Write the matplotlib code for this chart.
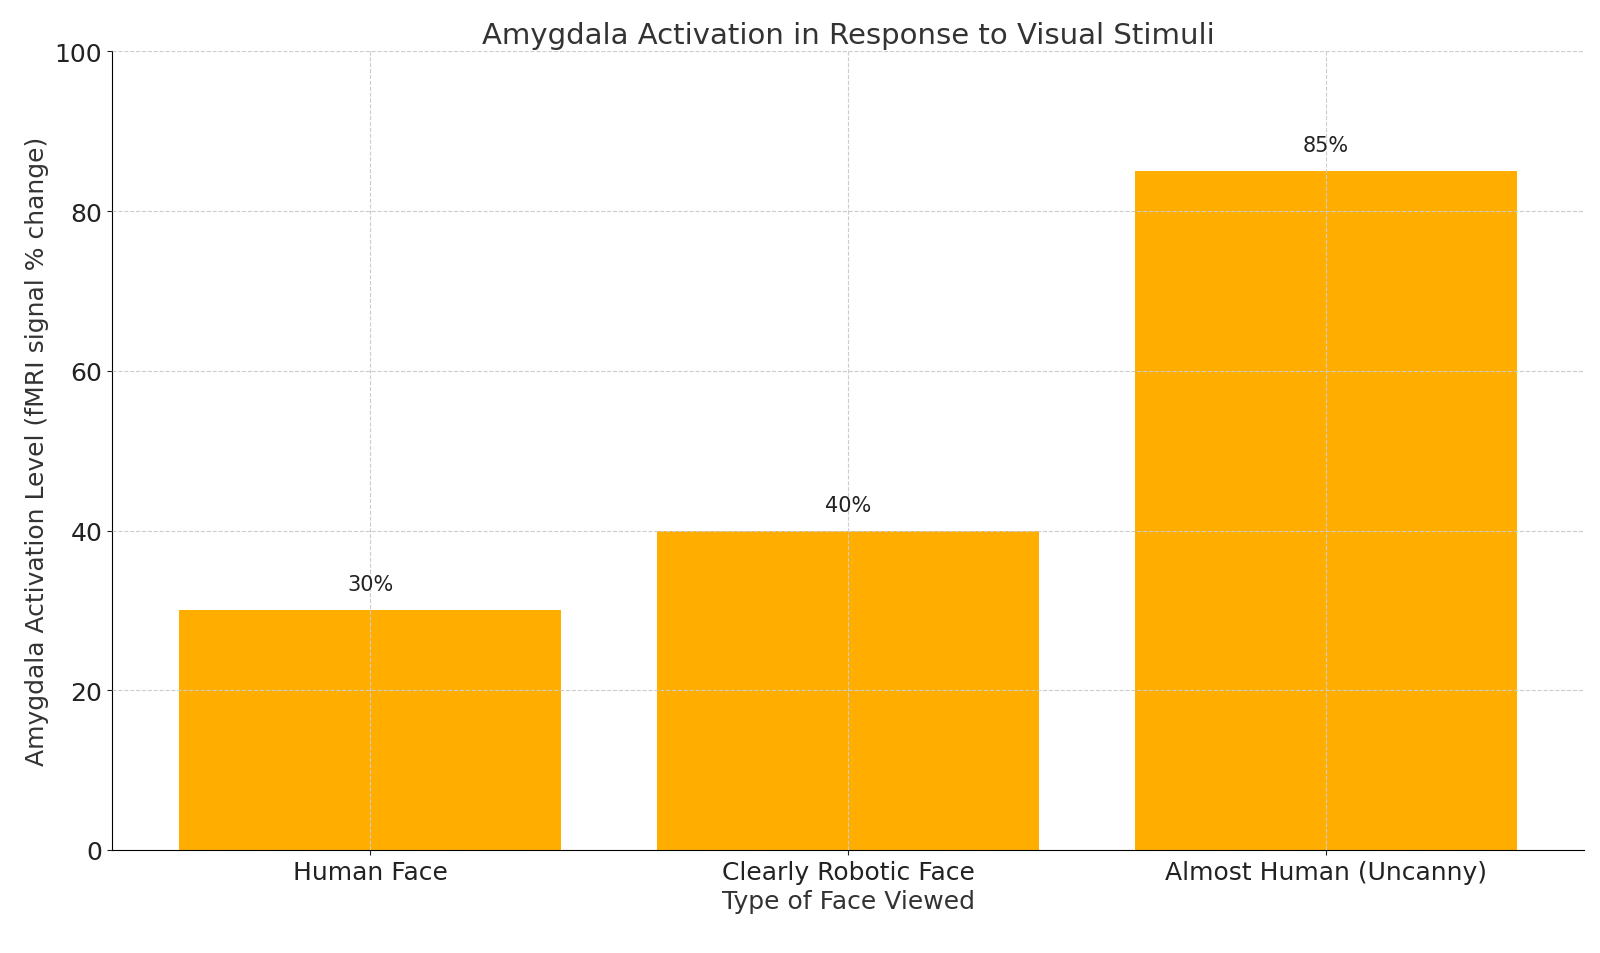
import matplotlib.pyplot as plt

categories = ["Human Face", "Clearly Robotic Face", "Almost Human (Uncanny)"]
activation = [30, 40, 85]

fig, ax = plt.subplots(figsize=(16, 9.54), dpi=100)
bars = ax.bar(categories, activation, color="#ffae00", width=0.8, zorder=2)
for b, v in zip(bars, activation):
    ax.text(b.get_x() + b.get_width() / 2, v + 2.5, f"{v}%", ha="center", fontsize=15, color="#222222")

ax.set_ylim(0, 100)
ax.set_xlim(-0.54, 2.54)
ax.grid(True, linestyle="--", color="#cccccc", linewidth=0.8, zorder=0)
ax.set_axisbelow(False)
for s in ["top", "right"]:
    ax.spines[s].set_visible(False)
ax.tick_params(labelsize=18, colors="#222222")
ax.set_title("Amygdala Activation in Response to Visual Stimuli", fontsize=21, color="#333333")
ax.set_xlabel("Type of Face Viewed", fontsize=18, color="#333333")
ax.set_ylabel("Amygdala Activation Level (fMRI signal % change)", fontsize=18, color="#333333")
plt.subplots_adjust(left=0.07, right=0.99, top=0.945, bottom=0.108)
plt.savefig("out.png")
